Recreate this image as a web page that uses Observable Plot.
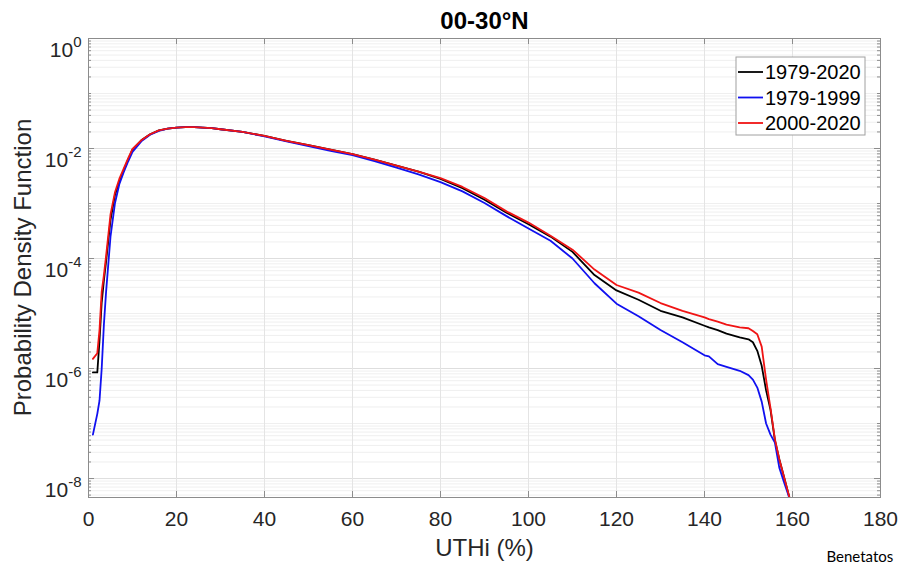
<!DOCTYPE html>
<html>
<head>
<meta charset="utf-8">
<script src="https://cdn.jsdelivr.net/npm/d3@7"></script>
<script src="https://cdn.jsdelivr.net/npm/@observablehq/plot@0.6"></script>
<style>
  html, body { margin: 0; padding: 0; background: #fff; }
  #chart { width: 902px; height: 566px; overflow: hidden; }
</style>
</head>
<body>
<div id="chart"></div>
<script>
// ---------- data ----------
const uthi = [1, 2, 2.5, 3, 3.5, 4, 5, 6, 7, 8, 9, 10, 12, 14, 16, 18, 20, 22, 24, 26, 28, 30,
  35, 40, 45, 50, 55, 60, 65, 70, 75, 80, 85, 90, 95, 100, 105, 110, 115, 120, 125, 130, 135, 140,
  141, 143, 145, 148, 150, 151, 152, 153, 154, 155, 156, 157, 158, 159, 160];

const pdf1979_2020 = [8.5e-7, 8.5e-7, 3.2e-6, 1.6e-5, 4.0e-5, 8.9e-5,
  5.0e-4, 1.41e-3, 2.5e-3, 4.0e-3, 6.3e-3, 9.5e-3,
  0.0141, 0.0182, 0.0214, 0.0229, 0.0240,
  0.0245, 0.0245, 0.0240, 0.0234, 0.0224,
  0.0200, 0.0170, 0.0138, 0.0115, 0.0095, 0.0079,
  0.0063, 0.0049, 0.0038, 0.0028, 0.0019, 0.00117,
  6.8e-4, 4.2e-4, 2.5e-4, 1.32e-4, 5.0e-5, 2.63e-5,
  1.78e-5, 1.12e-5, 8.5e-6, 6.0e-6,
  5.6e-6, 5.0e-6, 4.3e-6, 3.7e-6, 3.4e-6,
  3.0e-6, 2.1e-6, 1.12e-6, 4.0e-7, 1.78e-7,
  5.0e-8, 2.24e-8, 1.12e-8, 5.6e-9, 2.8e-9];

const pdf1979_1999 = [6.3e-8, 1.5e-7, 2.6e-7, 1.0e-6, 6.3e-6, 2.5e-5,
  2.5e-4, 1.0e-3, 2.24e-3, 3.7e-3, 5.8e-3, 8.7e-3,
  0.0135, 0.0178, 0.0209, 0.0229, 0.0240,
  0.0245, 0.0245, 0.0240, 0.0234, 0.0224,
  0.0200, 0.0166, 0.0135, 0.0110, 0.0091, 0.0076,
  0.0059, 0.0045, 0.0034, 0.00245, 0.00166, 0.00102,
  5.9e-4, 3.5e-4, 2.1e-4, 1.0e-4, 3.55e-5, 1.51e-5,
  8.9e-6, 5.0e-6, 3.0e-6, 1.74e-6,
  1.66e-6, 1.2e-6, 1.07e-6, 9.1e-7, 7.6e-7,
  6.3e-7, 4.5e-7, 2.5e-7, 1.0e-7, 6.3e-8,
  4.5e-8, 1.58e-8, 8.9e-9, 5.2e-9, 2.8e-9];

const pdf2000_2020 = [1.5e-6, 1.9e-6, 5.0e-6, 2.5e-5, 5.0e-5, 1.12e-4,
  6.3e-4, 1.58e-3, 2.8e-3, 4.3e-3, 6.6e-3, 9.8e-3,
  0.0141, 0.0182, 0.0214, 0.0229, 0.0240,
  0.0245, 0.0245, 0.0240, 0.0234, 0.0224,
  0.0200, 0.0170, 0.0138, 0.0115, 0.0095, 0.0079,
  0.0063, 0.0049, 0.0038, 0.0029, 0.0020, 0.00126,
  7.2e-4, 4.5e-4, 2.6e-4, 1.45e-4, 6.3e-5, 3.3e-5,
  2.4e-5, 1.55e-5, 1.12e-5, 8.5e-6,
  7.9e-6, 7.1e-6, 6.3e-6, 5.6e-6, 5.4e-6,
  4.8e-6, 4.2e-6, 2.5e-6, 6.3e-7, 1.9e-7,
  5.2e-8, 2.24e-8, 1.12e-8, 5.6e-9, 2.8e-9];

const seriesNames = ["1979-2020", "1979-1999", "2000-2020"];
const xTicks = [0, 20, 40, 60, 80, 100, 120, 140, 160, 180];
const yTicks = [1, 1e-2, 1e-4, 1e-6, 1e-8];
const yTickExponents = ["0", "-2", "-4", "-6", "-8"];
const titleText = "00-30°N";
const xLabel = "UTHi (%)";
const yLabel = "Probability Density Function";
const captionText = "Benetatos";

// ---------- build ----------
const seriesValues = [pdf1979_2020, pdf1979_1999, pdf2000_2020];
const rows = [];
seriesNames.forEach((s, j) => uthi.forEach((x, i) => rows.push({x, v: seriesValues[j][i], s})));

const yMin = 4.52e-9;
const minorY = [];
for (let e = -9; e <= -1; e++) for (let k = 1; k <= 9; k++) {
  const v = k * Math.pow(10, e);
  if (v >= yMin && v < 1 && !yTicks.some(t => Math.abs(t - v) / t < 1e-9)) minorY.push(v);
}

const W = 902, H = 566, mL = 88, mR = 22, mT = 38, mB = 69;
const innerW = W - mL - mR, innerH = H - mT - mB;
const frameColor = "#8c8c8c";
const font = "Liberation Sans, Arial, Helvetica, sans-serif";
const colors = ["#000000", "#1010f0", "#f01414"];

const svg = Plot.plot({
  width: W, height: H,
  marginLeft: mL, marginRight: mR, marginTop: mT, marginBottom: mB,
  style: {fontFamily: font, background: "#fff", color: "#262626"},
  x: {domain: [0, 180], label: null},
  y: {type: "log", domain: [yMin, 1], label: null},
  color: {domain: seriesNames, range: colors},
  marks: [
    Plot.ruleY(minorY, {stroke: "#efefef", strokeWidth: 1}),
    Plot.ruleY(yTicks, {stroke: "#dedede", strokeWidth: 1}),
    Plot.ruleX(xTicks.slice(1, -1), {stroke: "#e4e4e4", strokeWidth: 1}),
    Plot.line(rows, {x: "x", y: "v", z: "s", stroke: "s", strokeWidth: 1.8, clip: true}),
    Plot.frame({stroke: frameColor}),
    // inward ticks
    Plot.ruleX(xTicks, {stroke: frameColor, insetTop: innerH - 6}),
    Plot.ruleX(xTicks, {stroke: frameColor, insetBottom: innerH - 6}),
    Plot.ruleY(yTicks, {stroke: frameColor, insetRight: innerW - 6}),
    Plot.ruleY(yTicks, {stroke: frameColor, insetLeft: innerW - 6}),
    Plot.ruleY(minorY, {stroke: frameColor, insetRight: innerW - 3}),
    Plot.ruleY(minorY, {stroke: frameColor, insetLeft: innerW - 3}),
    Plot.axisX(xTicks, {tickSize: 0, tickPadding: 14, fontSize: 21, label: null, tickFormat: d => String(d), fill: "#262626"}),
    Plot.axisY(yTicks, {tickSize: 0, tickPadding: 7, fontSize: 21, label: null,
      tickFormat: d => "10^" + yTickExponents[yTicks.indexOf(d)], fill: "#262626"}),
    Plot.text([titleText], {frameAnchor: "top", lineAnchor: "middle", dy: -17, fontSize: 24, fontWeight: "bold", fill: "#000"}),
    Plot.text([xLabel], {frameAnchor: "bottom", lineAnchor: "middle", dy: 51, fontSize: 24, fill: "#262626"}),
    Plot.text([captionText], {frameAnchor: "bottom-right", lineAnchor: "middle", dx: -54, dy: 60, textAnchor: "start",
      fontSize: 15, fontFamily: "Lato, Open Sans, sans-serif", fill: "#000"})
  ]
});

const NS = "http://www.w3.org/2000/svg";
// superscript exponents on y tick labels
svg.querySelectorAll('g[aria-label="y-axis tick label"] text').forEach(t => {
  const [base, exp] = t.textContent.split("^");
  t.textContent = "";
  t.setAttribute("dy", "12");
  const b = document.createElementNS(NS, "tspan");
  b.textContent = base;
  const e = document.createElementNS(NS, "tspan");
  e.textContent = exp;
  e.setAttribute("dy", "-10");
  e.setAttribute("font-size", "15");
  t.appendChild(b); t.appendChild(e);
});

// y-axis title (rotated)
d3.select(svg).append("text")
  .attr("transform", `translate(31,${mT + innerH / 2}) rotate(-90)`)
  .attr("text-anchor", "middle")
  .attr("font-family", font).attr("font-size", 24).attr("fill", "#262626")
  .text(yLabel);

// legend (inside the axes, top-right)
const lg = d3.select(svg).append("g").attr("font-family", font);
lg.append("rect").attr("x", 736).attr("y", 57).attr("width", 129).attr("height", 78)
  .attr("fill", "#fff").attr("stroke", "#a0a0a0");
seriesNames.forEach((s, i) => {
  const cy = 72 + i * 25.5;
  lg.append("line").attr("x1", 738).attr("x2", 763).attr("y1", cy).attr("y2", cy)
    .attr("stroke", colors[i]).attr("stroke-width", 1.8);
  lg.append("text").attr("x", 765).attr("y", cy + 7).attr("text-anchor", "start")
    .attr("font-size", 20).attr("fill", "#000").text(s);
});

document.getElementById("chart").appendChild(svg);
</script>
</body>
</html>
